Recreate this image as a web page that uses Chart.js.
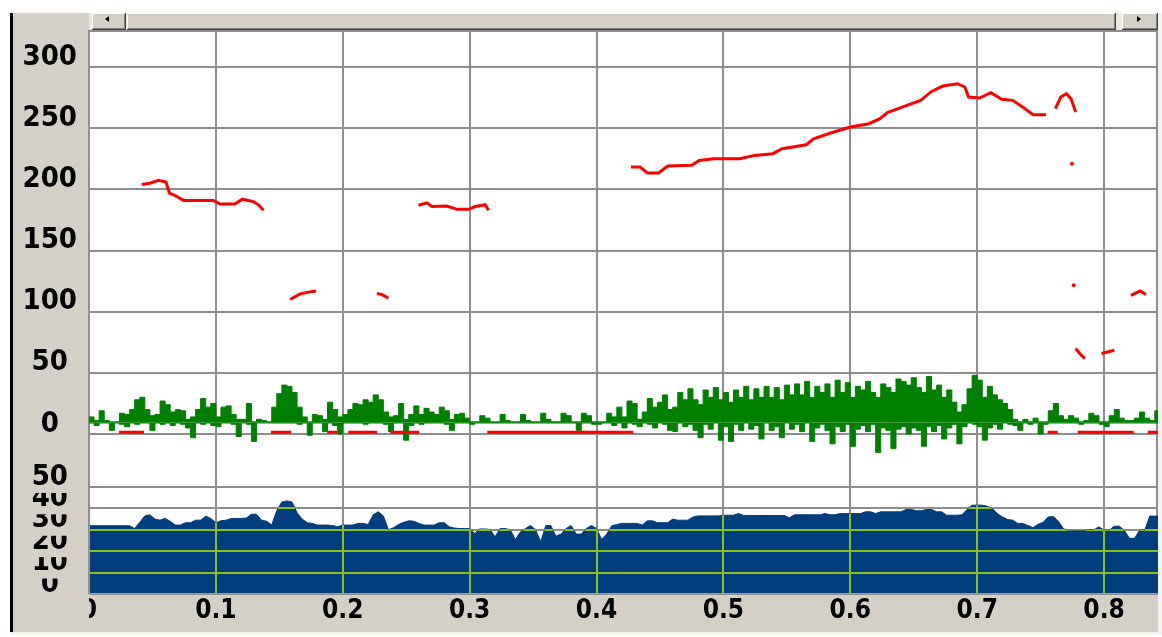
<!DOCTYPE html>
<html lang="en">
<head>
<meta charset="utf-8">
<title>Pitch track</title>
<script src="https://cdn.jsdelivr.net/npm/chart.js@4.4.0/dist/chart.umd.min.js"></script>
<style>
  html, body { margin: 0; padding: 0; background: #fff; }
  #canvas { display: block; }
</style>
</head>
<body>
<canvas id="canvas" width="1162" height="637"></canvas>
<script>
// ---- data ----
const xTicks = [0, 0.1, 0.2, 0.3, 0.4, 0.5, 0.6, 0.7, 0.8];
const pitchTicks = [0, 50, 100, 150, 200, 250, 300];
const energyTicks = [0, 10, 20, 30, 40, 50];

// pitch track (Hz), null breaks the line
const pitchT = [
  .0415,.0480,.0547,.0607,.0634,.0680,.0744,.0860,.0980,.1033,.1150,.1209,.1296,.1340,.1375,.1376,
  .1585,.1664,.1730,.1790,.1791,
  .2269,.2310,.2360,.2361,
  .2597,.2663,.2702,.2820,.2900,.2991,.3044,.3123,.3149,.3150,
  .4271,.4343,.4401,.4489,.4561,.4751,.4809,.4925,.5129,.5245,
  .5390,.5463,.5652,.5711,.5827,.6001,.6147,.6234,.6292,.6409,
  .6554,.6641,.6729,.6845,.6903,.6932,.7020,.7107,.7194,.7281,
  .7369,.7441,.7543,.7544,
  .7616,.7659,.7703,.7740,.7776,.7777,
  .7747,.7748,
  .7761,.7762,
  .7776,.7815,.7849,.7850,
  .7980,.8081,.8082,
  .8212,.8285,.8329
];
const pitchHz = [
  204,205,207.5,206,197,195,191,191,191,188,188,192,190,187,183,null,
  110,114.5,116,117,null,
  115,114,111,null,
  187,189,186,186.4,183.7,183.7,186,187.5,183,null,
  218.3,218.3,213.4,213.4,219.1,219.7,223.7,225.1,225.1,227.8,
  229.2,233.3,236.5,241.4,245.5,251,253.7,257.8,262.7,267.3,
  272.8,280.1,284.5,286.4,283.7,275.5,274.7,279,273.6,272.8,
  266.5,261.1,261.1,null,
  266,275.5,278.2,274,263.2,null,
  221,null,
  121.6,null,
  69.9,65,61.7,null,
  65.8,68.5,null,
  113.4,117,114
];

// unvoiced stretches, drawn just above zero
const unvoicedFrom = [.0237, .1435, .1877, .2043, .2374, .3139, .7555, .7792, .8344];
const unvoicedTo   = [.0434, .1593, .1956, .2271, .2603, .4290, .7634, .8233, .8450];
const unvoicedLevel = 1.5;

// waveform envelope, one frame every 4 ms
const waveStep = 0.004;
const waveBaseline = 9.5;
const waveMax = [
  14, 11, 19, 11, 10, 10, 17, 16, 20, 28,
  30, 20, 15, 16, 27, 24, 18, 20, 19, 12,
  14, 20, 29, 22, 25, 14, 22, 23, 16, 12,
  12, 25, 10, 12, 11, 10, 22, 33, 40, 39,
  34, 22, 14, 10, 16, 15, 12, 26, 20, 14,
  16, 20, 25, 24, 28, 26, 32, 28, 18, 14,
  15, 25, 12, 16, 23, 16, 21, 18, 16, 22,
  19, 12, 16, 17, 13, 10, 10, 15, 13, 10,
  10, 16, 11, 10, 10, 16, 11, 10, 10, 17,
  12, 10, 10, 17, 15, 10, 10, 17, 15, 10,
  10, 10, 17, 14, 22, 14, 27, 25, 12, 18,
  29, 22, 26, 32, 20, 22, 34, 28, 37, 28,
  24, 36, 30, 38, 28, 34, 26, 36, 30, 39,
  28, 37, 30, 39, 30, 38, 28, 40, 32, 41,
  32, 43, 30, 39, 34, 41, 30, 44, 34, 42,
  30, 39, 36, 43, 34, 30, 41, 38, 34, 45,
  43, 40, 46, 38, 34, 47, 36, 40, 30, 36,
  26, 18, 24, 37, 48, 44, 30, 39, 32, 28,
  25, 20, 12, 10, 12, 10, 13, 10, 10, 19,
  25, 15, 12, 15, 13, 10, 11, 17, 15, 10,
  10, 15, 20, 13, 11, 11, 13, 18, 13, 11,
  19, 17
];
const waveMin = [
  9, 7, 9, 9, 3, 9, 8, 6, 9, 8,
  9, 9, 3, 9, 8, 9, 7, 9, 8, 5,
  -3, 9, 8, 9, 7, 6, 9, 9, 8, -2,
  9, 8, -6, 9, 9, 9, 9, 9, 9, 9,
  9, 8, 9, -1, 9, 9, 2, 9, 7, 0,
  9, 9, 9, 9, 8, 9, 9, 9, 8, 2,
  9, 9, -5, 7, 9, 8, 9, 9, 9, 9,
  8, 3, 9, 9, 9, 8, 9, 9, 9, 9,
  9, 9, 9, 9, 9, 9, 9, 9, 9, 9,
  9, 9, 9, 9, 9, 9, 3, 9, 9, 8,
  8, 9, 9, 7, 9, 5, 9, 8, 6, 9,
  8, 5, 9, 8, 3, 2, 9, 6, 8, 3,
  -3, 8, 4, 9, -5, 6, -6, 8, 3, 9,
  4, 7, -4, 9, 3, 6, -3, 9, 4, 8,
  2, 9, -6, 5, 8, 3, -8, 6, 2, 8,
  -10, 4, 7, 2, 8, -15, 5, 3, -12, 4,
  6, 0, 5, 3, -10, 6, 2, 7, -4, 5,
  8, -8, 6, 9, 8, 6, -5, 5, 8, 4,
  9, 8, 7, 3, 9, 8, 9, 0, 8, 9,
  9, 9, 9, 9, 9, 8, 9, 9, 9, 8,
  6, 9, 9, 9, 9, 9, 9, 9, 9, 9,
  9, 9
];

// energy (dB), same 4 ms frames
const energy = [
  31.9, 31.9, 31.9, 31.9, 31.9, 31.9, 31.9, 31.9, 31.9, 30.6,
  33.5, 36.5, 37, 35, 34.5, 35.3, 34, 32.2, 32.2, 33.3,
  33.3, 34.5, 34.5, 36.4, 35.3, 33.3, 34.2, 34.5, 35.3, 35.3,
  35.3, 35.5, 37.3, 37.3, 34.5, 34, 32.2, 39, 43, 43.5,
  43, 38, 35, 33.3, 33, 32.2, 32.2, 32.2, 32, 31.4,
  32.2, 32.2, 32.2, 33, 33, 32.5, 37, 38.4, 36.5, 30,
  31, 32.5, 33.5, 34.2, 34, 33, 32.2, 32.2, 32.2, 33.3,
  33.3, 31.4, 30.8, 30.6, 30.6, 30.6, 28.3, 30.4, 30.4, 30.2,
  26.7, 30.6, 30.6, 30, 25.5, 29, 30.6, 32, 30, 24.4,
  32, 32, 27, 28, 30.6, 32, 28, 28, 30.6, 32,
  30.6, 25.5, 28, 31.9, 32.5, 33, 33, 33, 33, 32.2,
  34.2, 34.2, 33.3, 33.3, 33.3, 35, 34.5, 34.5, 34.5, 36,
  36.5, 36.5, 36.5, 36.5, 36.5, 36.8, 36.8, 36.8, 37.6, 36.7,
  36.7, 36.7, 36.7, 36.7, 36.7, 36.7, 36.7, 36.7, 35.6, 37,
  37, 37, 37, 37, 37, 37.6, 37, 37, 37.6, 37.6,
  37.6, 37.6, 37.6, 38.4, 38.4, 37.6, 38.4, 38.4, 38.4, 38.4,
  38.4, 39.5, 39.5, 38.9, 38.9, 39.5, 39.5, 38.4, 38.4, 36.8,
  36.8, 36.8, 37, 39.5, 41.5, 41.5, 41.5, 41, 39.9, 37.5,
  36, 34.8, 34.5, 33, 33, 32, 31, 32.6, 33.5, 36,
  36.2, 34, 30.5, 29.5, 29.5, 29.5, 29.5, 30, 30, 31.4,
  29.8, 29.8, 31.7, 31.7, 29.8, 26, 26, 29.8, 29.8, 36.4,
  36.4, 36.4
];

// ---- look ----
const PANEL = '#d4d0c8';
const GRID = '#8e8e8e';
const GRID_ON_FILL = '#86c21a';
const WAVE = '#008000';
const FONT = "'DejaVu Sans Condensed', 'DejaVu Sans', sans-serif";

const frameTime = i => +(i * waveStep).toFixed(4);
const pitchData = pitchT.map((t, i) => ({ x: t, y: pitchHz[i] }));
const unvoicedData = [];
unvoicedFrom.forEach((t, i) => {
  unvoicedData.push({ x: t, y: unvoicedLevel }, { x: unvoicedTo[i], y: unvoicedLevel }, { x: unvoicedTo[i], y: null });
});
const waveMaxData = waveMax.map((v, i) => ({ x: frameTime(i), y: v }));
const waveMinData = waveMin.map((v, i) => ({ x: frameTime(i), y: v }));
const energyData = energy.map((v, i) => ({ x: frameTime(i), y: v }));

function raised(ctx, x, y, w, h) {
  ctx.fillStyle = PANEL; ctx.fillRect(x, y, w, h);
  ctx.fillStyle = '#fff'; ctx.fillRect(x, y, w - 1, 1); ctx.fillRect(x, y, 1, h - 1);
  ctx.fillStyle = '#808080'; ctx.fillRect(x + 1, y + h - 2, w - 2, 1); ctx.fillRect(x + w - 2, y + 1, 1, h - 2);
  ctx.fillStyle = '#404040'; ctx.fillRect(x, y + h - 1, w, 1); ctx.fillRect(x + w - 1, y, 1, h);
}

function arrow(ctx, x, y, dir) {
  ctx.fillStyle = '#000';
  ctx.beginPath();
  ctx.moveTo(x + 2 * dir, y - 3);
  ctx.lineTo(x - 2 * dir, y);
  ctx.lineTo(x + 2 * dir, y + 3);
  ctx.closePath();
  ctx.fill();
}

const chrome = {
  id: 'chrome',
  beforeDraw(chart) {
    const { ctx, width, height, chartArea: a } = chart;
    ctx.save();
    ctx.fillStyle = '#fff';
    ctx.fillRect(0, 0, width, height);
    ctx.fillStyle = PANEL;
    ctx.fillRect(13, 13, width - 13, 619);
    ctx.fillStyle = '#f4f3ef';
    ctx.fillRect(a.right, 13, width - a.right, 619);
    ctx.fillRect(10, 632, width - 10, 3);
    ctx.fillStyle = '#fff';
    ctx.fillRect(a.left, a.top, a.right - a.left, a.bottom - a.top);
    ctx.fillStyle = '#000';
    ctx.fillRect(10, 13, 3, 619);
    // scrollbar
    ctx.fillStyle = '#ebe9e3';
    ctx.fillRect(a.left, 13, a.right - a.left, a.top - 13);
    raised(ctx, 92, 13, 34, 17);
    raised(ctx, 127, 13, 989, 17);
    raised(ctx, 1122, 13, 36, 17);
    arrow(ctx, 107, 19, 1);
    arrow(ctx, 1139, 19, -1);
    ctx.restore();
  },
  beforeDatasetsDraw(chart) {
    const { ctx, chartArea: a } = chart;
    ctx.save();
    ctx.fillStyle = GRID;
    ctx.fillRect(a.left, a.top, a.right - a.left, 2);
    ctx.fillRect(a.right - 2, a.top, 2, a.bottom - a.top);
    ctx.restore();
  },
  afterDatasetsDraw(chart) {
    // grid lines show through the energy area in green
    const { ctx } = chart;
    const idx = chart.data.datasets.findIndex(d => d.label === 'energy');
    const pts = chart.getDatasetMeta(idx).data;
    const xs = chart.scales.x, ys = chart.scales.y2;
    const base = ys.getPixelForValue(0);
    ctx.save();
    ctx.beginPath();
    ctx.moveTo(pts[0].x, base);
    pts.forEach(p => ctx.lineTo(p.x, p.y));
    ctx.lineTo(pts[pts.length - 1].x, base);
    ctx.closePath();
    ctx.clip();
    ctx.strokeStyle = GRID_ON_FILL;
    ctx.lineWidth = 2;
    ctx.beginPath();
    xs.ticks.forEach(t => {
      const px = Math.round(xs.getPixelForValue(t.value));
      ctx.moveTo(px, ys.top); ctx.lineTo(px, ys.bottom);
    });
    ys.ticks.forEach(t => {
      const py = Math.round(ys.getPixelForValue(t.value));
      ctx.moveTo(xs.left, py); ctx.lineTo(xs.right, py);
    });
    ctx.stroke();
    ctx.restore();
  },
  afterDraw(chart) {
    // the first time label is half hidden behind the axis panel
    const { ctx, chartArea: a } = chart;
    ctx.save();
    ctx.fillStyle = PANEL;
    ctx.fillRect(13, a.bottom + 1, a.left - 13, 36);
    ctx.restore();
  }
};

const fixTicks = list => scale => { scale.ticks = list.map(v => ({ value: v })); };
const noPad = s => { s.paddingTop = 0; s.paddingBottom = 0; s.paddingLeft = 0; s.paddingRight = 0; };

new Chart(document.getElementById('canvas'), {
  type: 'line',
  data: {
    datasets: [
      {
        label: 'pitch', data: pitchData, yAxisID: 'y',
        borderColor: '#ff0000', backgroundColor: '#ff0000', borderWidth: 3,
        pointRadius: c => (pitchHz[c.dataIndex - 1] == null && pitchHz[c.dataIndex + 1] == null) ? 2 : 0,
        pointBorderWidth: 0, spanGaps: false, fill: false
      },
      {
        label: 'unvoiced', data: unvoicedData, yAxisID: 'y',
        borderColor: '#ff0000', borderWidth: 3, pointRadius: 0, spanGaps: false, fill: false
      },
      {
        label: 'wave max', data: waveMaxData, yAxisID: 'y',
        borderColor: WAVE, backgroundColor: WAVE, borderWidth: 1,
        stepped: true, pointRadius: 0, fill: { value: waveBaseline }
      },
      {
        label: 'wave min', data: waveMinData, yAxisID: 'y',
        borderColor: WAVE, backgroundColor: WAVE, borderWidth: 1,
        stepped: true, pointRadius: 0, fill: { value: waveBaseline }
      },
      {
        label: 'energy', data: energyData, yAxisID: 'y2',
        borderColor: '#003e7e', backgroundColor: '#003e7e', borderWidth: 1,
        pointRadius: 0, fill: 'origin'
      }
    ]
  },
  options: {
    responsive: false,
    animation: false,
    devicePixelRatio: 1,
    layout: { padding: { top: 30, right: 4, left: 0, bottom: 0 } },
    plugins: { legend: { display: false }, tooltip: { enabled: false } },
    scales: {
      x: {
        type: 'linear', min: 0, max: 0.8425,
        afterBuildTicks: fixTicks(xTicks),
        afterFit: s => { s.height = 43; noPad(s); },
        grid: { color: GRID, lineWidth: 2, drawTicks: false },
        border: { display: false },
        ticks: {
          color: '#000', padding: 2, maxRotation: 0, autoSkip: false,
          font: { family: FONT, weight: 'bold', size: 26 },
          callback: v => v === 0 ? '0' : v.toFixed(1)
        }
      },
      y: {
        type: 'linear', position: 'left', stack: 'panels', stackWeight: 440, weight: 1,
        min: -29.4, max: 330.3,
        afterBuildTicks: fixTicks(pitchTicks),
        afterFit: s => { s.width = 89; noPad(s); },
        grid: { color: GRID, lineWidth: 2, drawTicks: false },
        border: { display: false },
        ticks: {
          color: '#000', padding: 12, crossAlign: 'center', labelOffset: -10, autoSkip: false,
          font: { family: FONT, weight: 'bold', size: 29 },
          callback: v => String(v)
        }
      },
      y2: {
        type: 'linear', position: 'left', stack: 'panels', stackWeight: 124, weight: 0,
        min: 0, max: 57.94,
        afterBuildTicks: fixTicks(energyTicks),
        afterFit: s => { s.width = 89; noPad(s); },
        grid: { color: GRID, lineWidth: 2, drawTicks: false },
        border: { display: false },
        ticks: {
          color: '#000', padding: 21, crossAlign: 'center', labelOffset: -10, autoSkip: false,
          showLabelBackdrop: true, backdropColor: PANEL, backdropPadding: 0,
          font: { family: FONT, weight: 'bold', size: 29, lineHeight: 1.1 },
          callback: v => String(v)
        }
      }
    }
  },
  plugins: [chrome]
});
</script>
</body>
</html>
